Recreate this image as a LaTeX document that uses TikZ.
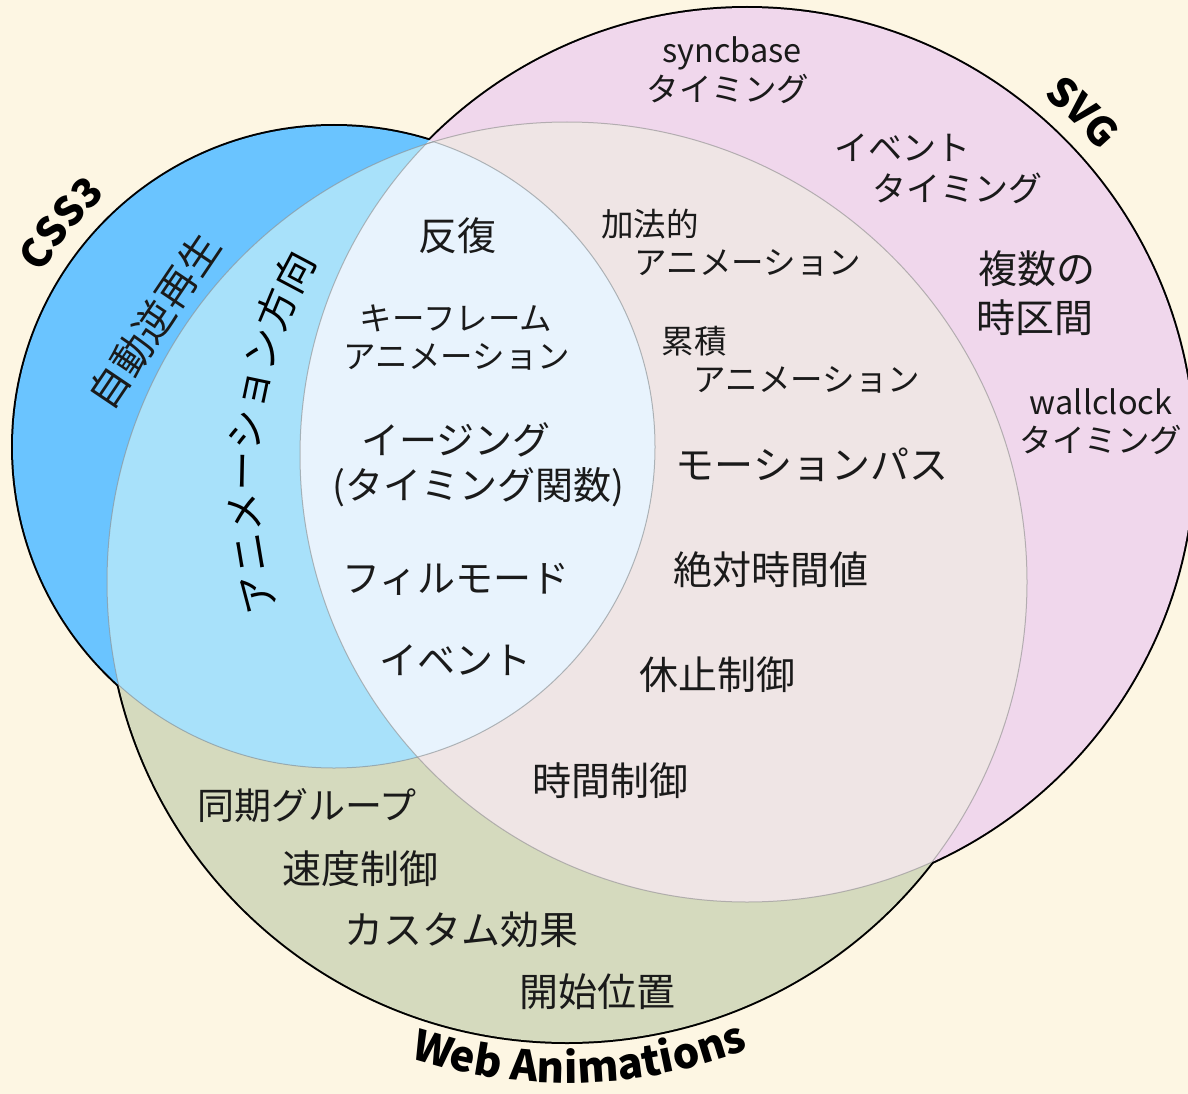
\documentclass[tikz,border=0pt]{standalone}
\usepackage{fontspec}
\setmainfont{Noto Sans CJK JP}
\usetikzlibrary{decorations.text}
\definecolor{bgc}{HTML}{FDF6E3}
\definecolor{cssc}{HTML}{6AC4FF}
\definecolor{csswac}{HTML}{A8E1FA}
\definecolor{triplec}{HTML}{E8F3FD}
\definecolor{svgwac}{HTML}{EFE5E5}
\definecolor{svgc}{HTML}{F0D7EC}
\definecolor{wac}{HTML}{D5DABE}
\definecolor{inkc}{HTML}{1A1A1A}
\begin{document}
\begin{tikzpicture}[x=1pt,y=1pt,
  big/.style={inner sep=0pt, text=inkc, font=\fontsize{39}{39}\selectfont},
  small/.style={inner sep=0pt, text=inkc, font=\fontsize{32.5}{32.5}\selectfont},
  latin/.style={inner sep=0pt, text=inkc, font=\fontsize{32.5}{32.5}\selectfont, anchor=base},
  outer/.style={draw=black, line width=4pt},
  inner/.style={draw=black!45, draw opacity=0.6, line width=1pt},
]
\useasboundingbox (0,0) rectangle (1188,-1094);
\fill[bgc] (0,0) rectangle (1188,-1094);
% outer outlines (inner halves get covered by fills)
\draw[outer] (567,-582) circle[radius=460];
\draw[outer] (747,-455) circle[radius=447];
\draw[outer] (334,-447) circle[radius=321];
% fills
\fill[wac] (567,-582) circle[radius=460];
\fill[svgc] (747,-455) circle[radius=447];
\fill[cssc] (334,-447) circle[radius=321];
\begin{scope}
  \clip (567,-582) circle[radius=460];
  \fill[svgwac] (747,-455) circle[radius=447];
  \fill[csswac] (334,-447) circle[radius=321];
\end{scope}
\begin{scope}
  \clip (334,-447) circle[radius=321];
  \fill[triplec] (747,-455) circle[radius=447];
\end{scope}
% thin inner boundaries
\begin{scope}
  \clip (567,-582) circle[radius=460];
  \draw[inner] (334,-447) circle[radius=321];
  \draw[inner] (747,-455) circle[radius=447];
\end{scope}
\begin{scope}
  \clip (334,-447) circle[radius=321];
  \draw[inner] (567,-582) circle[radius=460];
\end{scope}
\begin{scope}
  \clip (747,-455) circle[radius=447];
  \draw[inner] (567,-582) circle[radius=460];
\end{scope}

% set labels along the circles
\path[decorate, decoration={text along path, text align=center,
  text={|\fontsize{40}{40}\selectfont\bfseries|CSS3}}]
  ([shift={(334,-447)}]170.7:340) arc[start angle=170.7, end angle=110.7, radius=340];
\path[decorate, decoration={text along path, text align=center,
  text={|\fontsize{40}{40}\selectfont\bfseries|SVG}}]
  ([shift={(747,-455)}]75.6:466) arc[start angle=75.6, end angle=15.6, radius=466];
\path[decorate, decoration={text along path, text align=center,
  text={|\fontsize{42}{42}\selectfont\bfseries|Web Animations}}]
  ([shift={(567,-582)}]231.5:501) arc[start angle=231.5, end angle=311.5, radius=501];
\path[decorate, decoration={text along path, text align=center,
  text={|\fontsize{40}{40}\selectfont|アニメーション方向}}]
  ([shift={(688,-480)}]233.5:430) arc[start angle=233.5, end angle=113.5, radius=430];

% CSS3 only
\node[big, rotate=56, font=\fontsize{40}{40}\selectfont] (jidou) at (154,-321) {自動逆再生};

% SVG only
\node[latin] (sync) at (732,-63) {syncbase};
\node[small] (syncT) at (728,-89) {タイミング};
\node[small, font=\fontsize{34}{34}\selectfont] (evt) at (902,-148) {イベント};
\node[small, font=\fontsize{34}{34}\selectfont] (evtT) at (957,-188) {タイミング};
\node[big] (multi1) at (1037,-269) {複数の};
\node[big] (multi2) at (1035,-318) {時区間};
\node[latin] (wall) at (1101,-414) {wallclock};
\node[small] (wallT) at (1101,-440) {タイミング};

% SVG and Web Animations
\node[small] (add1) at (650,-224) {加法的};
\node[small] (add2) at (748,-263) {アニメーション};
\node[small] (acc1) at (694,-341) {累積};
\node[small] (acc2) at (807,-380) {アニメーション};
\node[big] (motion) at (812,-465) {モーションパス};
\node[big] (abs) at (771,-570) {絶対時間値};
\node[big] (pause) at (717,-675) {休止制御};
\node[big] (timectl) at (610,-781) {時間制御};

% all three
\node[big] (repeat) at (457,-236) {反復};
\node[small] (kf1) at (456,-318) {キーフレーム};
\node[small] (kf2) at (457,-357) {アニメーション};
\node[big, font=\fontsize{38}{38}\selectfont] (ease1) at (456,-440) {イージング};
\node[big, font=\fontsize{38}{38}\selectfont] (ease2) at (478,-487) {(タイミング関数)};
\node[big, font=\fontsize{38}{38}\selectfont] (fill) at (456,-579) {フィルモード};
\node[big, font=\fontsize{38}{38}\selectfont] (event) at (455,-660) {イベント};

% Web Animations only
\node[big, font=\fontsize{37}{37}\selectfont] (sync2) at (307,-806) {同期グループ};
\node[big] (speed) at (360,-869) {速度制御};
\node[big] (custom) at (461,-930) {カスタム効果};
\node[big] (start) at (597,-992) {開始位置};
\end{tikzpicture}
\end{document}
